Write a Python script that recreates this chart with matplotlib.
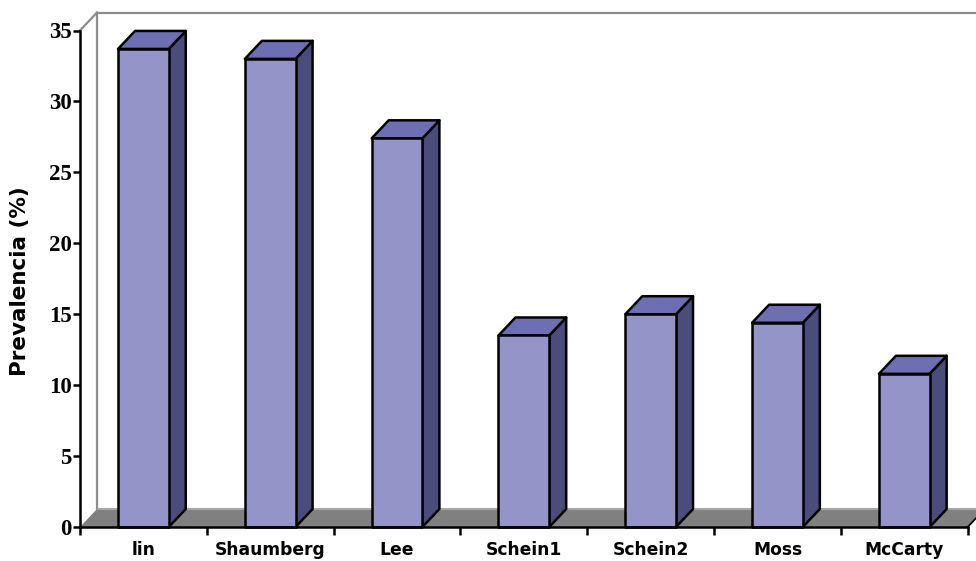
import matplotlib
matplotlib.use("Agg")
import matplotlib.pyplot as plt
from matplotlib.patches import Polygon

categories = ["lin", "Shaumberg", "Lee", "Schein1", "Schein2", "Moss", "McCarty"]
prevalence = [33.7, 33.0, 27.4, 13.5, 15.0, 14.4, 10.8]
y_ticks = [0, 5, 10, 15, 20, 25, 30, 35]

W, H, DPI = 976, 561, 100
fig = plt.figure(figsize=(W / DPI, H / DPI), dpi=DPI)
fig.patch.set_facecolor("white")

left_px, right_px, bottom_px, top_px = 80, 967.7, 527, 30.5
ax = fig.add_axes([left_px / W, (H - bottom_px) / H,
                   (right_px - left_px) / W, (bottom_px - top_px) / H])
n = len(categories)
ymax = 35
ax.set_xlim(0, n)
ax.set_ylim(0, ymax)

# depth offset of the 3-D box, in pixels converted to data units
px_per_x = (right_px - left_px) / n
px_per_y = (bottom_px - top_px) / ymax
dx = 17 / px_per_x
dy = 18 / px_per_y

wall_grey = "#8C8C8C"

# floor
floor = Polygon([(0, 0), (n, 0), (n + dx, dy), (dx, dy)], closed=True,
                facecolor="#808080", edgecolor="none", clip_on=False, zorder=1)
ax.add_patch(floor)
ax.plot([dx, n + dx + 0.2], [dy, dy], color="#A8A8A8", lw=1.5,
        clip_on=False, zorder=1.5, solid_capstyle="butt")
ax.plot([n, n + dx], [0, dy], color="black", lw=1.2, clip_on=False, zorder=1.6)

# back and side walls
ax.plot([dx, dx], [dy, ymax + dy], color=wall_grey, lw=1.6, clip_on=False, zorder=1.2)
ax.plot([0, dx], [ymax, ymax + dy], color=wall_grey, lw=1.6, clip_on=False, zorder=1.2)
ax.plot([dx, n + dx + 0.2], [ymax + dy, ymax + dy], color=wall_grey, lw=1.6,
        clip_on=False, zorder=1.2)

# bars
front_c, top_c, side_c = "#9494C8", "#6E6EB2", "#4B4B7C"
bw = 0.4
for i, v in enumerate(prevalence):
    x0 = i + 0.5 - bw / 2
    x1 = x0 + bw
    kw = dict(closed=True, edgecolor="black", lw=1.8, joinstyle="round",
              clip_on=False, zorder=3)
    ax.add_patch(Polygon([(x1, 0), (x1 + dx, dy), (x1 + dx, v + dy), (x1, v)],
                         facecolor=side_c, **kw))
    ax.add_patch(Polygon([(x0, v), (x1, v), (x1 + dx, v + dy), (x0 + dx, v + dy)],
                         facecolor=top_c, **kw))
    ax.add_patch(Polygon([(x0, 0), (x1, 0), (x1, v), (x0, v)],
                         facecolor=front_c, **kw))

# axes styling
for s in ["top", "right"]:
    ax.spines[s].set_visible(False)
for s in ["left", "bottom"]:
    ax.spines[s].set_linewidth(1.8)
    ax.spines[s].set_color("black")
    ax.spines[s].set_zorder(4)
ax.set_facecolor("none")

ax.set_yticks(y_ticks)
ax.set_yticklabels([str(t) for t in y_ticks], family="Liberation Serif",
                   fontweight="bold", fontsize=16.5)
ax.tick_params(axis="y", direction="out", length=5, width=1.8, pad=1)

ax.set_xticks(range(n + 1))
ax.set_xticklabels([])
ax.tick_params(axis="x", direction="out", length=6, width=1.8)
for i, name in enumerate(categories):
    ax.text(i + 0.5, -1.6, name, ha="center", va="center", fontsize=12.3,
            fontweight="bold", family="DejaVu Sans", clip_on=False)

fig.text(20 / W, 1 - 281 / H, "Prevalencia (%)", rotation=90, ha="center",
         va="center", fontsize=15.5, fontweight="bold", family="DejaVu Sans")

fig.savefig("out.png", dpi=DPI, facecolor="white")
